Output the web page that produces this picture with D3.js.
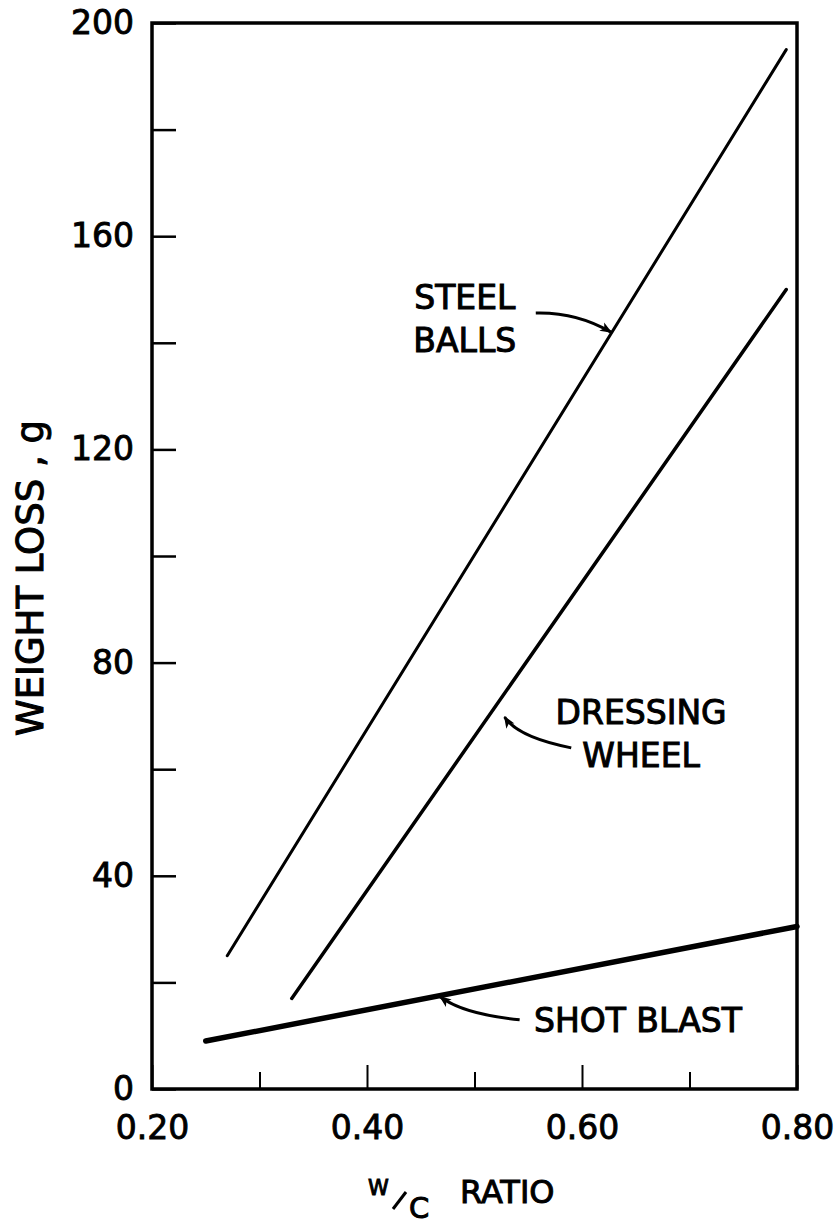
<!DOCTYPE html>
<html>
<head>
<meta charset="utf-8">
<script src="https://cdn.jsdelivr.net/npm/d3@7"></script>
<style>
  html, body { margin: 0; padding: 0; background: #fff; }
  svg { display: block; }
  text { font-family: "DejaVu Sans", sans-serif; fill: #000; }
</style>
</head>
<body>
<svg id="chart" width="837" height="1226"></svg>
<script>
// ---- data ----
const xTicks = [0.2, 0.3, 0.4, 0.5, 0.6, 0.7, 0.8];
const xTickLabels = ["0.20", "", "0.40", "", "0.60", "", "0.80"];
const yTicks = [0, 20, 40, 60, 80, 100, 120, 140, 160, 180, 200];
const yTickLabels = ["0", "", "40", "", "80", "", "120", "", "160", "", "200"];

const seriesNames = ["STEEL BALLS", "DRESSING WHEEL", "SHOT BLAST"];
const steelBallsX = [0.27, 0.79];
const steelBallsY = [25, 195];
const dressingWheelX = [0.33, 0.79];
const dressingWheelY = [17, 150];
const shotBlastX = [0.25, 0.80];
const shotBlastY = [9, 30.5];

// annotation labels (data coordinates): text anchor, arrow start, arrow control, arrow tip
const annotLines = [["STEEL", "BALLS"], ["DRESSING", "WHEEL"], ["SHOT BLAST"]];
const annotTextX = [0.491, 0.655, 0.652];
const annotTextY = [148.6, 70.8, 13.0];
const annotStart = [[0.557, 145.6], [0.590, 64.0], [0.542, 13.0]];
const annotCtrl  = [[0.595, 145.8], [0.540, 66.0], [0.49, 14.0]];
const annotTip   = [[0.627, 142.0], [0.528, 69.8], [0.468, 17.3]];

// ---- layout ----
const W = 837, H = 1226;
const margin = { left: 152, right: 40, top: 23, bottom: 137 };
const iw = W - margin.left - margin.right;
const ih = H - margin.top - margin.bottom;

const svg = d3.select("#chart");
const g = svg.append("g").attr("transform", `translate(${margin.left},${margin.top})`);

const x = d3.scaleLinear().domain([0.2, 0.8]).range([0, iw]);
const y = d3.scaleLinear().domain([0, 200]).range([ih, 0]);

svg.append("defs").append("marker")
  .attr("id", "arrow")
  .attr("viewBox", "0 0 10 10")
  .attr("refX", 9).attr("refY", 5)
  .attr("markerWidth", 20).attr("markerHeight", 12)
  .attr("markerUnits", "userSpaceOnUse")
  .attr("orient", "auto")
  .append("path").attr("d", "M0,1 L10,5 L0,9 L2.5,5 Z").attr("fill", "#000");

// ---- axes ----
const yAxis = d3.axisLeft(y)
  .tickValues(yTicks)
  .tickSizeInner(-24)
  .tickSizeOuter(0)
  .tickPadding(18)
  .tickFormat((d, i) => yTickLabels[i]);

const gy = g.append("g").call(yAxis);
gy.select(".domain").remove();
gy.selectAll(".tick line").attr("stroke", "#000").attr("stroke-width", 2.5);
gy.selectAll(".tick text")
  .style("font-family", "DejaVu Sans").style("font-size", "33px")
  .attr("fill", "#000").attr("stroke", "#000").attr("stroke-width", 0.9);

const xAxis = d3.axisBottom(x)
  .tickValues(xTicks)
  .tickSizeInner(-24)
  .tickSizeOuter(0)
  .tickPadding(27)
  .tickFormat((d, i) => xTickLabels[i]);

const gx = g.append("g").attr("transform", `translate(0,${ih})`).call(xAxis);
gx.select(".domain").remove();
gx.selectAll(".tick line")
  .attr("stroke", "#000").attr("stroke-width", 2)
  .attr("y2", (d, i) => (xTickLabels[i] === "" ? -17 : -24));
gx.selectAll(".tick text")
  .style("font-family", "DejaVu Sans").style("font-size", "33px")
  .attr("fill", "#000").attr("stroke", "#000").attr("stroke-width", 0.9);

// frame
g.append("rect")
  .attr("x", 0).attr("y", 0).attr("width", iw).attr("height", ih)
  .attr("fill", "none").attr("stroke", "#000").attr("stroke-width", 3.5);

// ---- series ----
const seriesX = [steelBallsX, dressingWheelX, shotBlastX];
const seriesY = [steelBallsY, dressingWheelY, shotBlastY];
const widths = [3, 3.5, 5.5];
const line = d3.line().x(d => x(d[0])).y(d => y(d[1]));

seriesNames.forEach((name, k) => {
  const pts = seriesX[k].map((v, i) => [v, seriesY[k][i]]);
  g.append("path")
    .datum(pts)
    .attr("d", line)
    .attr("fill", "none")
    .attr("stroke", "#000")
    .attr("stroke-width", widths[k])
    .attr("stroke-linecap", "round");
});

// ---- annotations ----
annotLines.forEach((lines, k) => {
  const t = g.append("text")
    .attr("text-anchor", "middle")
    .style("font-size", "33px")
    .attr("stroke", "#000").attr("stroke-width", 1.0);
  lines.forEach((ln, j) => {
    t.append("tspan")
      .attr("x", x(annotTextX[k]))
      .attr("y", y(annotTextY[k]) + 12 + j * 43)
      .text(ln);
  });
  const p = d3.path();
  p.moveTo(x(annotStart[k][0]), y(annotStart[k][1]));
  p.quadraticCurveTo(x(annotCtrl[k][0]), y(annotCtrl[k][1]), x(annotTip[k][0]), y(annotTip[k][1]));
  g.append("path")
    .attr("d", p.toString())
    .attr("fill", "none")
    .attr("stroke", "#000")
    .attr("stroke-width", 3)
    .attr("marker-end", "url(#arrow)");
});

// ---- axis titles ----
svg.append("text")
  .attr("transform", "translate(43,578) rotate(-90)")
  .attr("text-anchor", "middle")
  .style("font-size", "37px")
  .attr("stroke", "#000").attr("stroke-width", 1.0)
  .text("WEIGHT LOSS , g");

const xt = svg.append("g");
xt.append("text").attr("x", 368).attr("y", 1195)
  .style("font-size", "21px").attr("stroke", "#000").attr("stroke-width", 1.0)
  .text("W");
xt.append("line").attr("x1", 393).attr("y1", 1209).attr("x2", 406).attr("y2", 1192)
  .attr("stroke", "#000").attr("stroke-width", 3);
xt.append("text").attr("x", 409).attr("y", 1218)
  .style("font-size", "29px").attr("stroke", "#000").attr("stroke-width", 1.0)
  .text("C");
xt.append("text").attr("x", 460).attr("y", 1203)
  .style("font-size", "32px").attr("stroke", "#000").attr("stroke-width", 1.0)
  .text("RATIO");
</script>
</body>
</html>
